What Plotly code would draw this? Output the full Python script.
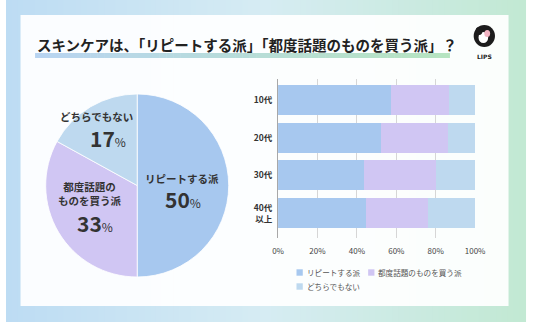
import plotly.graph_objects as go

W, H = 536, 322
FONT = "Noto Sans CJK JP"

# ---- data ----
pie_labels = ["リピートする派", "都度話題のものを買う派", "どちらでもない"]
pie_values = [50, 33, 17]

age_groups = ["10代", "20代", "30代", "40代<br>以上"]
repeat_share = [57.5, 52.0, 43.7, 44.5]
trend_share = [29.0, 34.0, 36.3, 31.5]
neither_share = [13.5, 14.0, 20.0, 24.0]

x_ticks = [0, 20, 40, 60, 80, 100]
x_tick_labels = ["0%", "20%", "40%", "60%", "80%", "100%"]

colors = ["#a7c8ef", "#d0c6f3", "#bed9ef"]
title_text = "スキンケアは、「リピートする派」「都度話題のものを買う派」？"


def px(x):
    return x / W


def py(y):
    return 1 - y / H


def mix(c1, c2, t):
    a = [int(c1[i:i + 2], 16) for i in (1, 3, 5)]
    b = [int(c2[i:i + 2], 16) for i in (1, 3, 5)]
    return "rgb(%d,%d,%d)" % tuple(round(a[k] + (b[k] - a[k]) * t) for k in range(3))


fig = go.Figure()

# ---- pie ----
fig.add_trace(go.Pie(
    labels=pie_labels, values=pie_values, sort=False, direction="clockwise",
    rotation=0, marker=dict(colors=colors, line=dict(color="white", width=0.8)),
    textinfo="none", hoverinfo="skip", showlegend=False,
    domain=dict(x=[px(41), px(230)], y=[py(280), py(91)]),
))

# ---- stacked bars ----
for name, vals, col in zip(pie_labels, [repeat_share, trend_share, neither_share], colors):
    fig.add_trace(go.Bar(
        y=age_groups, x=vals, orientation="h", name=name,
        marker=dict(color=col, line=dict(width=0)), showlegend=False,
        hoverinfo="skip",
    ))

fig.update_layout(
    barmode="stack", bargap=0.2,
    width=W, height=H, margin=dict(l=0, r=0, t=0, b=0),
    paper_bgcolor="white", plot_bgcolor="rgba(0,0,0,0)",
    font=dict(family=FONT, color="#333"),
    xaxis=dict(domain=[px(281), px(484.5)], range=[0, 100], tickvals=x_ticks,
               ticktext=x_tick_labels, showgrid=True, gridcolor="#d6d6d6",
               gridwidth=1, zeroline=False, showline=False, ticks="outside",
               ticklen=5, tickcolor="rgba(0,0,0,0)",
               tickfont=dict(size=8, color="#444"), fixedrange=True),
    yaxis=dict(domain=[py(238), py(79)], type="category",
               range=[3.66, -0.557], showgrid=False, zeroline=False,
               showline=True, linecolor="#a8a8a8", linewidth=1,
               ticks="outside", ticklen=3, tickcolor="rgba(0,0,0,0)",
               tickfont=dict(size=8.5, color="#333", weight="bold"),
               fixedrange=True),
)

shapes = []
# background wash, blue on the left fading to green on the right
N = 90
for i in range(N):
    t = i / (N - 1)
    if t < 0.5:
        c = mix("#bddcf3", "#d6ecf3", t / 0.5)
    else:
        c = mix("#d6ecf3", "#c2e9d3", (t - 0.5) / 0.5)
    shapes.append(dict(type="rect", xref="paper", yref="paper",
                       x0=i / N, x1=(i + 1) / N + 0.002, y0=0, y1=1,
                       fillcolor=c, line=dict(width=0), layer="below"))
# white card
shapes.append(dict(type="rect", xref="paper", yref="paper",
                   x0=px(15), x1=px(519), y0=py(306), y1=py(15),
                   fillcolor="rgba(255,255,255,0.93)", line=dict(width=0),
                   layer="below"))
# title highlight bar
M = 60
ux0, ux1 = 30, 458
for i in range(M):
    t = i / (M - 1)
    c = mix("#b8d4f1", "#b6e4c0", t)
    a = ux0 + (ux1 - ux0) * i / M
    b = ux0 + (ux1 - ux0) * (i + 1) / M + 0.5
    shapes.append(dict(type="rect", xref="paper", yref="paper",
                       x0=px(a), x1=px(b), y0=py(58), y1=py(53),
                       fillcolor=c, line=dict(width=0), layer="below"))
# logo badge
shapes.append(dict(type="circle", xref="paper", yref="paper",
                   x0=px(483), x1=px(505), y0=py(47), y1=py(25),
                   fillcolor="#1c1c1c", line=dict(width=0), layer="above"))
shapes.append(dict(type="circle", xref="paper", yref="paper",
                   x0=px(488), x1=px(498), y0=py(43), y1=py(32),
                   fillcolor="white", line=dict(width=0), layer="above"))
shapes.append(dict(type="circle", xref="paper", yref="paper",
                   x0=px(494), x1=px(500), y0=py(37), y1=py(30),
                   fillcolor="#f2b3c2", line=dict(width=0), layer="above"))
shapes.append(dict(type="circle", xref="paper", yref="paper",
                   x0=px(485), x1=px(492), y0=py(35), y1=py(27),
                   fillcolor="#1c1c1c", line=dict(width=0), layer="above"))

# legend swatches
legend_items = [(300, 272.5), (374, 272.5), (300, 286.5)]
for (lx, ly), col in zip(legend_items, colors):
    shapes.append(dict(type="rect", xref="paper", yref="paper",
                       x0=px(lx), x1=px(lx + 6.5), y0=py(ly + 3.2), y1=py(ly - 3.2),
                       fillcolor=col, line=dict(width=0), layer="above"))

annotations = [
    dict(text="<b>" + title_text + "</b>", x=px(30), y=py(45), xanchor="left",
         yanchor="middle", font=dict(size=14.5, color="#222")),
    dict(text="<b>LIPS</b>", x=px(494), y=py(56), font=dict(size=6, color="#222",
         family="DejaVu Sans")),
]
for (lx, ly), name in zip(legend_items, pie_labels):
    annotations.append(dict(text=name, x=px(lx + 8.5), y=py(ly), xanchor="left",
                            yanchor="middle", font=dict(size=7.6, color="#555")))

# pie labels
pct = lambda v: "<b>%d</b><span style='font-size:12px'>%%</span>" % v
annotations += [
    dict(text="<b>リピートする派</b>", x=px(182), y=py(178), font=dict(size=10.5)),
    dict(text=pct(pie_values[0]), x=px(183), y=py(199), font=dict(size=21)),
    dict(text="<b>都度話題の<br>ものを買う派</b>", x=px(87), y=py(193.5),
         font=dict(size=10.5)),
    dict(text=pct(pie_values[1]), x=px(92), y=py(223), font=dict(size=21)),
    dict(text="<b>どちらでもない</b>", x=px(93), y=py(117), font=dict(size=10.5)),
    dict(text=pct(pie_values[2]), x=px(105), y=py(138), font=dict(size=21)),
]
for a in annotations:
    a.setdefault("xref", "paper")
    a.setdefault("yref", "paper")
    a.setdefault("showarrow", False)
    a.setdefault("xanchor", "center")
    a.setdefault("yanchor", "middle")

fig.update_layout(shapes=shapes, annotations=annotations)
fig.write_html("out.html")
